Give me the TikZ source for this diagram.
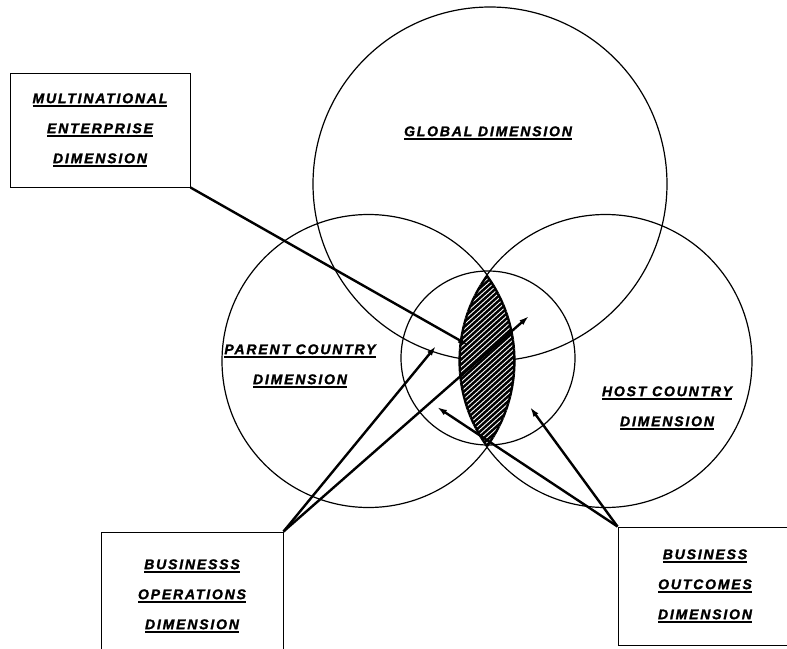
\documentclass[tikz,border=0pt]{standalone}
\usepackage{fontspec}
\setmainfont{Liberation Sans}
\newfontfamily\dimfamily[LetterSpace=13, FakeBold=1.6]{Liberation Sans}
\usetikzlibrary{positioning, arrows.meta}
\newcommand\dimfont{\dimfamily\fontsize{14}{30}\selectfont\bfseries\itshape}
\newcommand\dimline[1]{\setbox0\hbox{#1}\rlap{\rule[-3.5pt]{\wd0}{2pt}}\box0}

\begin{document}
\begin{tikzpicture}[x=1pt, y=-1pt,
  ring/.style={draw, circle, line width=1.2pt, inner sep=0pt, outer sep=0pt},
  dimbox/.style={draw, line width=1pt, align=center, inner sep=0pt, font=\dimfont},
  lbl/.style={align=center, font=\dimfont},
  arr/.style={-{Latex[length=10pt, width=6pt]}, line width=2.4pt},
  hatch/.style={white, line width=0.9pt}
]
\useasboundingbox (0,0) rectangle (787,648);

% the four circles
\node[ring, minimum size=354pt] (global) at (490,184) {};
\node[ring, minimum size=293pt] (parent) at (368.5,361) {};
\node[ring, minimum size=293pt] (host) at (605.5,361) {};
\node[ring, minimum size=174pt] (core) at (488,358) {};

% shaded lens
\begin{scope}
\clip (parent.center) circle[radius=146.5pt];
\clip (host.center) circle[radius=146.5pt];
\fill (440,260) rectangle (540,460);
\foreach \k in {220,225.5,...,500}
  \draw[hatch] (\k,470) -- ++(220,-198);
\draw[line width=3.5pt] (parent.center) circle[radius=146.5pt];
\draw[line width=3.5pt] (host.center) circle[radius=146.5pt];
\end{scope}

\node[lbl] (globalLbl) at (488,133) {\dimline{GLOBAL DIMENSION}};
\node[lbl] (parentLbl) at (300,366) {\dimline{PARENT COUNTRY}\\\dimline{DIMENSION}};
\node[lbl] (hostLbl) at (667,408) {\dimline{HOST COUNTRY}\\\dimline{DIMENSION}};

% boxes
\node[dimbox, minimum width=180pt, minimum height=114pt] (mne) at (100,130)
  {\dimline{MULTINATIONAL}\\\dimline{ENTERPRISE}\\\dimline{DIMENSION}};
\node[dimbox, minimum width=182pt, minimum height=128pt] (ops) at (192,596)
  {\dimline{BUSINESSS}\\\dimline{OPERATIONS}\\\dimline{DIMENSION}};
\node[dimbox, minimum width=174pt, minimum height=118pt] (out) at (705,586)
  {\dimline{BUSINESS}\\\dimline{OUTCOMES}\\\dimline{DIMENSION}};

% connectors
\coordinate (mneTip) at (468,345);
\coordinate (opsTipA) at (436,346);
\coordinate (opsTipB) at (529,316);
\coordinate (outTipA) at (437,407);
\coordinate (outTipB) at (530,407);
\draw[arr] (mne.south east) -- (mneTip);
\draw[arr] (ops.north east) -- (opsTipA);
\draw[arr] (ops.north east) -- (opsTipB);
\draw[arr] (out.north west) -- (outTipA);
\draw[arr] (out.north west) -- (outTipB);
\end{tikzpicture}
\end{document}
